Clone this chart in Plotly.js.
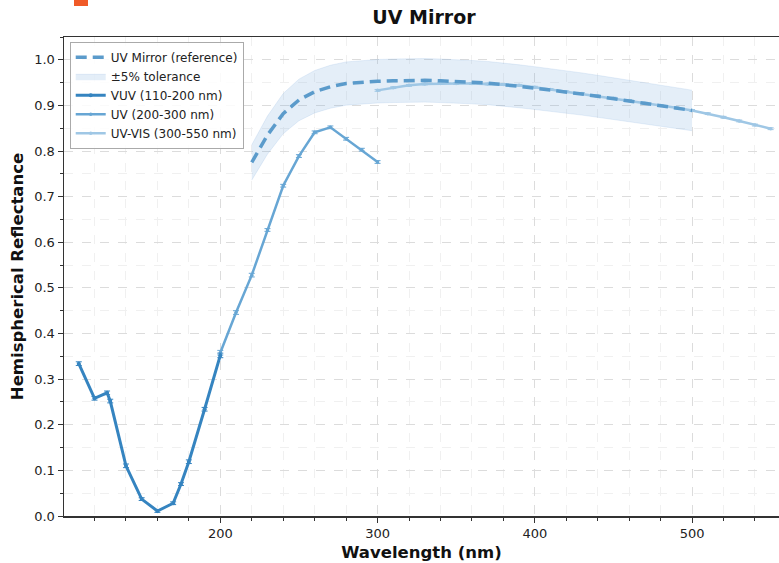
<!DOCTYPE html>
<html>
<head>
<meta charset="utf-8">
<script src="https://cdn.plot.ly/plotly-3.0.1.min.js"></script>
<style>html,body{margin:0;padding:0;background:#fff;}#chart{width:779px;height:563px;}</style>
</head>
<body>
<div id="chart"></div>
<script>
// Reference curve (220-500 nm)
const refWl = [220,230,240,250,260,270,280,290,300,310,320,330,340,350,360,370,380,390,400,410,420,430,440,450,460,470,480,490,500];
const refR  = [0.775,0.835,0.882,0.912,0.930,0.941,0.948,0.951,0.953,0.954,0.955,0.955,0.954,0.953,0.951,0.949,0.946,0.942,0.938,0.934,0.929,0.925,0.920,0.915,0.910,0.905,0.900,0.895,0.889];
const tolerance = 0.05;

// VUV (110-200 nm)
const vuvWl = [110,120,128,130,140,150,160,170,175,180,190,200];
const vuvR  = [0.334,0.258,0.270,0.252,0.110,0.037,0.011,0.028,0.070,0.119,0.234,0.352];
const vuvErr = [0.004,0.004,0.004,0.004,0.004,0.003,0.003,0.003,0.003,0.004,0.004,0.005];

// UV (200-300 nm)
const uvWl = [200,210,220,230,240,250,260,270,280,290,300];
const uvR  = [0.358,0.446,0.528,0.627,0.724,0.789,0.841,0.852,0.827,0.803,0.776];
const uvErr = [0.005,0.004,0.004,0.003,0.003,0.003,0.003,0.003,0.003,0.003,0.003];

// UV-VIS (300-550 nm)
const visWl = [300,310,320,330,340,350,360,370,380,390,400,410,420,430,440,450,460,470,480,490,500,510,520,530,540,550];
const visR  = [0.933,0.939,0.944,0.947,0.948,0.948,0.948,0.947,0.946,0.944,0.940,0.935,0.930,0.926,0.921,0.916,0.911,0.905,0.900,0.895,0.889,0.882,0.874,0.866,0.857,0.849];
const visErr = [0.002,0.002,0.002,0.002,0.002,0.002,0.002,0.002,0.002,0.002,0.002,0.002,0.002,0.002,0.002,0.002,0.002,0.002,0.002,0.002,0.002,0.002,0.002,0.002,0.002,0.002];

const xTicks = [200,300,400,500];
const yTicks = [0,0.1,0.2,0.3,0.4,0.5,0.6,0.7,0.8,0.9,1.0];

const lower = refR.map(v => v*(1-tolerance));
const upper = refR.map(v => v*(1+tolerance));

const cVUV = '#3584c0', cUV = '#67a6d4', cVIS = '#9fc7e5', cRef = '#5b9bcb';

const traces = [
  {x: refWl, y: lower, mode:'lines', line:{width:0.5, color:'rgba(120,170,220,0.35)'}, showlegend:false, hoverinfo:'skip', legendrank:10},
  {x: refWl, y: upper, mode:'lines', line:{width:0.5, color:'rgba(120,170,220,0.35)'}, fill:'tonexty', fillcolor:'rgba(120,170,220,0.2)', name:'±5% tolerance', legendrank:2},
  {x: visWl, y: visR, mode:'lines+markers', name:'UV-VIS (300-550 nm)', line:{color:cVIS, width:2.5}, marker:{size:3.5, color:cVIS},
   error_y:{type:'data', array:visErr, color:cVIS, thickness:1, width:3}, legendrank:5},
  {x: refWl, y: refR, mode:'lines', name:'UV Mirror (reference)', line:{color:cRef, width:3.5, dash:'11px,6px'}, legendrank:1},
  {x: uvWl, y: uvR, mode:'lines+markers', name:'UV (200-300 nm)', line:{color:cUV, width:2.5}, marker:{size:3.5, color:cUV},
   error_y:{type:'data', array:uvErr, color:cUV, thickness:1, width:3}, legendrank:4},
  {x: vuvWl, y: vuvR, mode:'lines+markers', name:'VUV (110-200 nm)', line:{color:cVUV, width:3}, marker:{size:4, color:cVUV},
   error_y:{type:'data', array:vuvErr, color:cVUV, thickness:1, width:3}, legendrank:3}
];

const axisCommon = {
  showline:true, linecolor:'#333', linewidth:1.5, mirror:true,
  ticks:'outside', ticklen:5, tickwidth:1, tickcolor:'#333',
  showgrid:true, gridcolor:'#dcdcdc', griddash:'dash', gridwidth:1,
  zeroline:false,
  tickfont:{family:'DejaVu Sans', size:13, color:'#222'}
};

const layout = {
  width:779, height:563,
  margin:{l:64, r:0, t:37, b:47},
  paper_bgcolor:'#fff', plot_bgcolor:'#fff',
  title:{text:'<b>UV Mirror</b>', font:{family:'DejaVu Sans', size:19, color:'#111'}, x:424/779, xref:'container', xanchor:'center', y:1-17/563, yanchor:'middle'},
  xaxis: Object.assign({}, axisCommon, {
    range:[100.6, 555.3], tickvals:xTicks, ticktext:xTicks.map(String),
    title:{text:'<b>Wavelength (nm)</b>', font:{family:'DejaVu Sans', size:16.5, color:'#111'}, standoff:6},
    minor:{dtick:20, tick0:0, ticks:'outside', ticklen:3, tickcolor:'#333', showgrid:true, gridcolor:'#f0f0f0', griddash:'dash'}
  }),
  yaxis: Object.assign({}, axisCommon, {
    range:[0, 1.05], tickvals:yTicks, ticktext:yTicks.map(v=>v.toFixed(1)),
    title:{text:'<b>Hemispherical Reflectance</b>', font:{family:'DejaVu Sans', size:16.5, color:'#111'}, standoff:6},
    minor:{dtick:0.05, tick0:0, ticks:'outside', ticklen:3, tickcolor:'#333', showgrid:true, gridcolor:'#f0f0f0', griddash:'dash'}
  }),
  legend:{x:0.008, y:0.99, xanchor:'left', yanchor:'top', bgcolor:'rgba(255,255,255,0.85)', bordercolor:'#aaa', borderwidth:1,
    font:{family:'DejaVu Sans', size:12, color:'#222'}, tracegroupgap:0, itemwidth:30, traceorder:'normal'},
  shapes:[{type:'rect', xref:'paper', yref:'paper', x0:(74-64)/715, x1:(88-64)/715, y0:1+ (37-6)/479, y1:1+37/479, fillcolor:'#f05a28', line:{width:0}, layer:'above'}],
  showlegend:true
};

Plotly.newPlot('chart', traces, layout, {displayModeBar:false, staticPlot:true});
</script>
</body>
</html>
